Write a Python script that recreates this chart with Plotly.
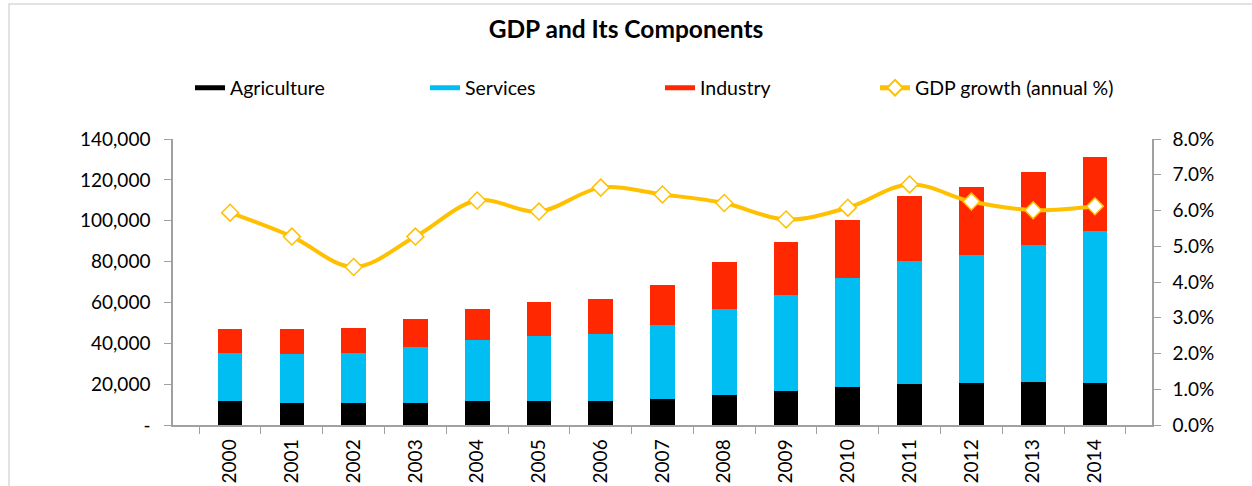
import plotly.graph_objects as go

years = [str(y) for y in range(2000, 2015)]
agriculture = [11750, 10900, 10600, 10900, 11750, 11900, 11900, 12900, 14850, 16800, 18600, 20200, 20550, 21200, 20700]
services = [23500, 23700, 24500, 27400, 29850, 31800, 32800, 36050, 42100, 47000, 53350, 60200, 62650, 66750, 74250]
industry = [11750, 12200, 12400, 13600, 15000, 16500, 17100, 19550, 22850, 25600, 28550, 31550, 33300, 35750, 36050]
gdp_growth = [0.0594, 0.0527, 0.0442, 0.0527, 0.0628, 0.0597, 0.0664, 0.0645, 0.0621, 0.0575, 0.0608, 0.0673, 0.0625, 0.0601, 0.0612]

left_tickvals = [0, 20000, 40000, 60000, 80000, 100000, 120000, 140000]
left_ticktext = ["-", "20,000", "40,000", "60,000", "80,000", "100,000", "120,000", "140,000"]

C_AGR = "#000000"
C_SER = "#00BEF2"
C_IND = "#FF2800"
C_GDP = "#FFC000"
FONT = "Lato"

fig = go.Figure()
for name, vals, col in [("Agriculture", agriculture, C_AGR), ("Services", services, C_SER), ("Industry", industry, C_IND)]:
    fig.add_trace(go.Bar(x=years, y=vals, name=name, marker=dict(color=col, line=dict(width=0)),
                         showlegend=False))
    fig.add_trace(go.Scatter(x=[None], y=[None], mode="lines", name=name,
                             line=dict(color=col, width=13), showlegend=True))

fig.add_trace(go.Scatter(x=years, y=gdp_growth, name="GDP growth (annual %)", yaxis="y2",
                         mode="lines+markers", line=dict(color=C_GDP, width=4, shape="spline"),
                         marker=dict(symbol="diamond", size=13, color="white",
                                     line=dict(color=C_GDP, width=1.5)),
                         legend="legend2"))

W, H = 1252, 486
L, R, T, B = 173, 100, 139, 61
pw, ph = W - L - R, H - T - B

axis_common = dict(showline=True, linecolor="#A0A0A0", linewidth=1.5, ticks="outside", ticklen=7,
                   tickcolor="#A0A0A0", showgrid=False, zeroline=False, tickfont=dict(size=19),
                   automargin=False)

legend_y = 1 + (T - 88) / ph

fig.update_layout(
    width=W, height=H,
    margin=dict(l=L, r=R, t=T, b=B, autoexpand=False),
    paper_bgcolor="white", plot_bgcolor="white",
    barmode="stack", bargap=0.6,
    font=dict(family=FONT, size=19, color="#000000"),
    title=dict(text="<b>GDP and Its Components</b>", x=0.5, xanchor="center",
               y=1 - 29 / H, yanchor="middle", font=dict(size=24.5, family=FONT)),
    legend=dict(orientation="h", x=(190 - L) / pw, xanchor="left", y=legend_y, yanchor="middle",
                entrywidth=190, entrywidthmode="pixels", font=dict(size=19.5, family=FONT),
                traceorder="normal", itemsizing="constant"),
    legend2=dict(orientation="h", x=(875 - L) / pw, xanchor="left", y=legend_y, yanchor="middle",
                 font=dict(size=19.5, family=FONT), itemsizing="constant"),
    xaxis=dict(type="category", tickangle=-90, tickson="boundaries", ticklabelstandoff=5, **axis_common),
    yaxis=dict(range=[0, 140000], tickvals=left_tickvals, ticktext=left_ticktext,
               ticklabelstandoff=10, **axis_common),
    yaxis2=dict(range=[0, 0.08], dtick=0.01, tickformat=".1%", overlaying="y", side="right",
                ticklabelstandoff=8, **axis_common),
)

# light chart-area border
fig.add_shape(type="rect", xref="paper", yref="paper",
              x0=(9 - L) / pw, x1=(W + 5 - L) / pw, y0=-(B + 5) / ph, y1=1 + (T - 4) / ph,
              line=dict(color="#D9D9D9", width=1.5), fillcolor="rgba(0,0,0,0)", layer="below")

fig.write_html("out.html")
